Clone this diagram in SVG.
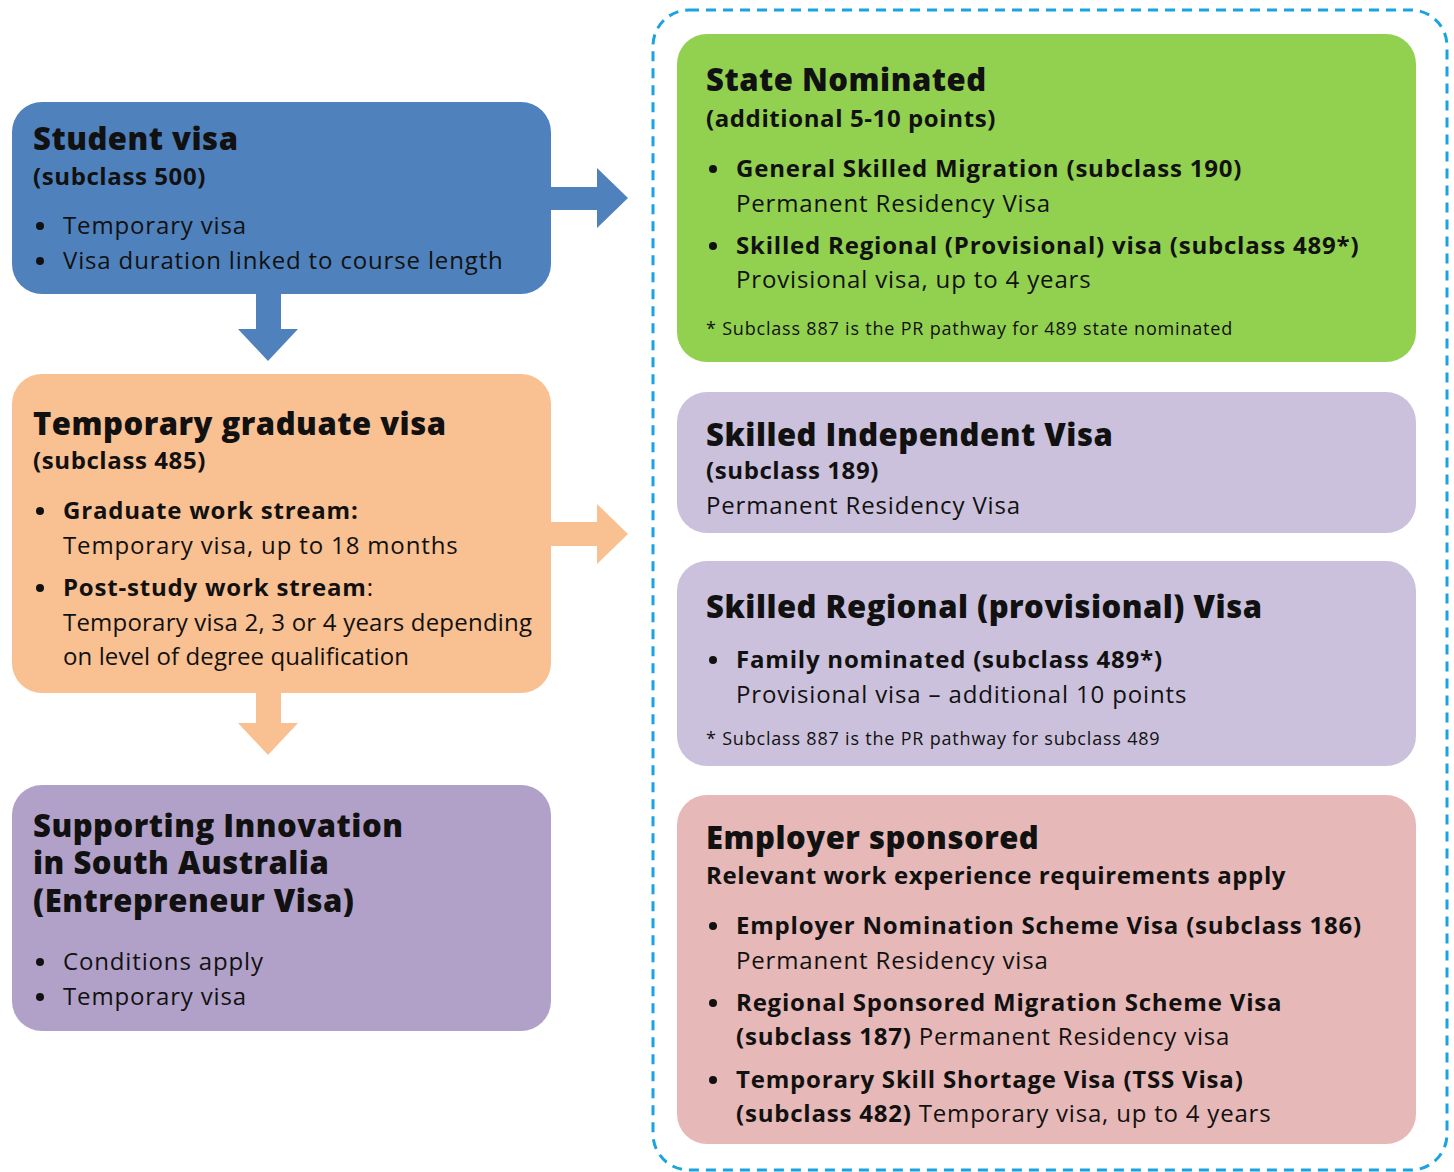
<svg xmlns="http://www.w3.org/2000/svg" width="1454" height="1172" viewBox="0 0 1454 1172">
<style>
text{font-family:"Open Sans","Noto Sans","Liberation Sans",sans-serif;fill:#111;}
.t{font-size:31px;font-weight:800;letter-spacing:0.5px;}
.s{font-size:24px;font-weight:700;letter-spacing:0.6px;}
.b{font-size:24px;font-weight:400;letter-spacing:0.85px;}
.bb{font-size:24px;font-weight:700;letter-spacing:0.8px;}
.f{font-size:18px;font-weight:400;letter-spacing:0.8px;}
.dot{fill:#111;}
</style>
<rect x="653" y="10" width="794" height="1160" rx="36" fill="none" stroke="#1aa3e0" stroke-width="3" stroke-dasharray="10 7"/>
<g id="connectors">
<path d="M550,187 H597 V168 L628,198 L597,228 V210 H550 Z" fill="#4f81bd"/>
<path d="M256,293 H281 V329 H298 L268,361 L238,329 H256 Z" fill="#4f81bd"/>
<path d="M550,522 H597 V504 L628,534 L597,564 V546 H550 Z" fill="#f9c091"/>
<path d="M256,692 H281 V723 H298 L268,755 L238,723 H256 Z" fill="#f9c091"/>
</g>
<g id="student">
<rect x="12" y="102" width="539" height="192" rx="30" fill="#4f81bd"/>
<text class="t" x="33" y="150">Student visa</text>
<text class="s" x="33" y="185">(subclass 500)</text>
<circle class="dot" cx="40" cy="226" r="4"/><text class="b" x="63" y="234">Temporary visa</text>
<circle class="dot" cx="40" cy="261" r="4"/><text class="b" x="63" y="269">Visa duration linked to course length</text>
</g>
<g id="graduate">
<rect x="12" y="374" width="539" height="319" rx="30" fill="#f9c091"/>
<text class="t" x="33" y="435">Temporary graduate visa</text>
<text class="s" x="33" y="469">(subclass 485)</text>
<circle class="dot" cx="40" cy="511" r="4"/><text class="bb" x="63" y="519">Graduate work stream:</text>
<text class="b" x="63" y="554">Temporary visa, up to 18 months</text>
<circle class="dot" cx="40" cy="588" r="4"/><text class="bb" x="63" y="596">Post-study work stream<tspan font-weight="400">:</tspan></text>
<text class="b" x="63" y="631" style="letter-spacing:0" textLength="469" lengthAdjust="spacing">Temporary visa 2, 3 or 4 years depending</text>
<text class="b" x="63" y="665" style="letter-spacing:0" textLength="346" lengthAdjust="spacing">on level of degree qualification</text>
</g>
<g id="innovation">
<rect x="12" y="785" width="539" height="246" rx="30" fill="#b1a1c8"/>
<text class="t"><tspan x="33" y="837">Supporting Innovation</tspan><tspan x="33" y="874">in South Australia</tspan><tspan x="33" y="912">(Entrepreneur Visa)</tspan></text>
<circle class="dot" cx="40" cy="962" r="4"/><text class="b" x="63" y="970">Conditions apply</text>
<circle class="dot" cx="40" cy="997" r="4"/><text class="b" x="63" y="1005">Temporary visa</text>
</g>
<g id="state">
<rect x="677" y="34" width="739" height="328" rx="30" fill="#92d050"/>
<text class="t" x="706" y="91">State Nominated</text>
<text class="s" x="706" y="127">(additional 5-10 points)</text>
<circle class="dot" cx="713" cy="169" r="4"/><text class="bb" x="736" y="177">General Skilled Migration (subclass 190)</text>
<text class="b" x="736" y="212">Permanent Residency Visa</text>
<circle class="dot" cx="713" cy="246" r="4"/><text class="bb" x="736" y="254">Skilled Regional (Provisional) visa (subclass 489*)</text>
<text class="b" x="736" y="288">Provisional visa, up to 4 years</text>
<text class="f" x="706" y="335">* Subclass 887 is the PR pathway for 489 state nominated</text>
</g>
<g id="independent">
<rect x="677" y="392" width="739" height="141" rx="30" fill="#cbc1dc"/>
<text class="t" x="706" y="446">Skilled Independent Visa</text>
<text class="s" x="706" y="479">(subclass 189)</text>
<text class="b" x="706" y="514">Permanent Residency Visa</text>
</g>
<g id="regional">
<rect x="677" y="561" width="739" height="205" rx="30" fill="#cbc1dc"/>
<text class="t" x="706" y="618">Skilled Regional (provisional) Visa</text>
<circle class="dot" cx="713" cy="660" r="4"/><text class="bb" x="736" y="668">Family nominated (subclass 489*)</text>
<text class="b" x="736" y="703">Provisional visa – additional 10 points</text>
<text class="f" x="706" y="745">* Subclass 887 is the PR pathway for subclass 489</text>
</g>
<g id="employer">
<rect x="677" y="795" width="739" height="349" rx="30" fill="#e6b8b7"/>
<text class="t" x="706" y="849">Employer sponsored</text>
<text class="s" x="706" y="884">Relevant work experience requirements apply</text>
<circle class="dot" cx="713" cy="926" r="4"/><text class="bb" x="736" y="934">Employer Nomination Scheme Visa (subclass 186)</text>
<text class="b" x="736" y="969">Permanent Residency visa</text>
<circle class="dot" cx="713" cy="1003" r="4"/><text class="bb" x="736" y="1011">Regional Sponsored Migration Scheme Visa</text>
<text class="bb" x="736" y="1045">(subclass 187)<tspan font-weight="400"> Permanent Residency visa</tspan></text>
<circle class="dot" cx="713" cy="1080" r="4"/><text class="bb" x="736" y="1088">Temporary Skill Shortage Visa (TSS Visa)</text>
<text class="bb" x="736" y="1122">(subclass 482)<tspan font-weight="400"> Temporary visa, up to 4 years</tspan></text>
</g>
</svg>
